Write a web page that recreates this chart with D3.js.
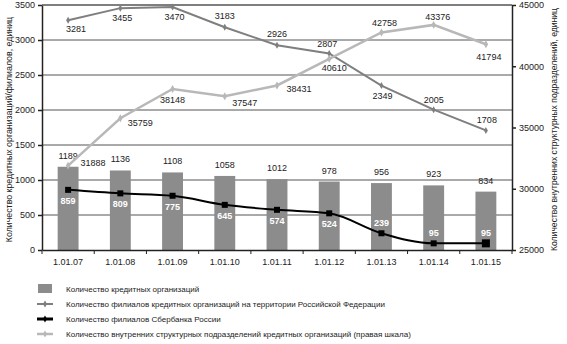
<!DOCTYPE html>
<html>
<head>
<meta charset="utf-8">
<script src="https://cdn.jsdelivr.net/npm/d3@7"></script>
<style>
  body { margin: 0; background: #fff; }
  svg { display: block; font-family: "Liberation Sans Narrow", "Liberation Sans", Arial, sans-serif; }
</style>
</head>
<body>
<div id="chart"></div>
<script>
// data
const dates = ["1.01.07", "1.01.08", "1.01.09", "1.01.10", "1.01.11", "1.01.12", "1.01.13", "1.01.14", "1.01.15"];
const creditOrgs = [1189, 1136, 1108, 1058, 1012, 978, 956, 923, 834];
const branches = [3281, 3455, 3470, 3183, 2926, 2807, 2349, 2005, 1708];
const sberBranches = [859, 809, 775, 645, 574, 524, 239, 95, 95];
const internalUnits = [31888, 35759, 38148, 37547, 38431, 40610, 42758, 43376, 41794];
const leftTicks = [0, 500, 1000, 1500, 2000, 2500, 3000, 3500];
const rightTicks = [25000, 30000, 35000, 40000, 45000];
const legendNames = [
  "Количество кредитных организаций",
  "Количество филиалов кредитных организаций на территории Российской  Федерации",
  "Количество филиалов Сбербанка России",
  "Количество внутренних структурных подразделений кредитных организаций (правая шкала)"
];

const width = 567, height = 344;
const plotLeft = 42, plotRight = 512, plotTop = 5, plotBottom = 250;

const barColor = "#8c8c8c", branchColor = "#7f7f7f", sberColor = "#000", unitColor = "#b8b8b8";

const svg = d3.select("#chart").append("svg")
    .attr("width", width)
    .attr("height", height)
    .attr("viewBox", [0, 0, width, height]);

const x = d3.scaleBand().domain(dates).range([plotLeft, plotRight]).paddingInner(0.6).paddingOuter(0.3);
const xc = d => x(d) + x.bandwidth() / 2;
const y = d3.scaleLinear().domain([0, 3500]).range([plotBottom, plotTop]);
const y2 = d3.scaleLinear().domain([25000, 45000]).range([plotBottom, plotTop]);

// gridlines
svg.append("g")
    .selectAll("line")
    .data(leftTicks.slice(1))
    .join("line")
    .attr("x1", plotLeft).attr("x2", plotRight)
    .attr("y1", d => y(d)).attr("y2", d => y(d))
    .attr("stroke", "#555").attr("stroke-width", 1);

// bars
svg.append("g")
    .selectAll("rect")
    .data(creditOrgs)
    .join("rect")
    .attr("x", (d, i) => x(dates[i]))
    .attr("width", x.bandwidth())
    .attr("y", d => y(d))
    .attr("height", d => plotBottom - y(d))
    .attr("fill", barColor);

svg.append("g")
    .attr("font-size", 9).attr("text-anchor", "middle").attr("fill", "#222")
    .selectAll("text")
    .data(creditOrgs)
    .join("text")
    .attr("x", (d, i) => xc(dates[i]))
    .attr("y", d => y(d) - 8)
    .text(d => d);

// axes
const axisLeft = svg.append("g")
    .attr("transform", `translate(${plotLeft},0)`)
    .call(d3.axisLeft(y).tickValues(leftTicks).tickSize(4).tickSizeOuter(0).tickFormat(d3.format("d")));
const axisRight = svg.append("g")
    .attr("transform", `translate(${plotRight},0)`)
    .call(d3.axisRight(y2).tickValues(rightTicks).tickSize(4).tickSizeOuter(0).tickFormat(d3.format("d")));
const axisBottom = svg.append("g")
    .attr("transform", `translate(0,${plotBottom})`)
    .call(d3.axisBottom(x).tickSize(0).tickPadding(9));

[axisLeft, axisRight, axisBottom].forEach(g => {
    g.selectAll("text").attr("font-size", 9).attr("fill", "#222").attr("font-family", null);
    g.selectAll("line, path").attr("stroke", "#222").attr("stroke-width", 1.5);
});

// boundary ticks on x axis
svg.append("g")
    .selectAll("line")
    .data(d3.range(dates.length + 1))
    .join("line")
    .attr("x1", i => plotLeft + i * x.step()).attr("x2", i => plotLeft + i * x.step())
    .attr("y1", plotBottom).attr("y2", plotBottom + 4)
    .attr("stroke", "#222").attr("stroke-width", 1);

// top frame
svg.append("line")
    .attr("x1", plotLeft).attr("x2", plotRight).attr("y1", plotTop).attr("y2", plotTop)
    .attr("stroke", "#555").attr("stroke-width", 1);

// branches line (left axis)
svg.append("path")
    .datum(branches)
    .attr("fill", "none").attr("stroke", branchColor).attr("stroke-width", 2)
    .attr("d", d3.line().x((d, i) => xc(dates[i])).y(d => y(d)));
svg.append("g").selectAll("path")
    .data(branches).join("path")
    .attr("transform", (d, i) => `translate(${xc(dates[i])},${y(d)})`)
    .attr("d", d3.symbol(d3.symbolDiamond, 14)).attr("fill", branchColor);

// internal units line (right axis)
svg.append("path")
    .datum(internalUnits)
    .attr("fill", "none").attr("stroke", unitColor).attr("stroke-width", 2.5)
    .attr("d", d3.line().x((d, i) => xc(dates[i])).y(d => y2(d)));
svg.append("g").selectAll("path")
    .data(internalUnits).join("path")
    .attr("transform", (d, i) => `translate(${xc(dates[i])},${y2(d)})`)
    .attr("d", d3.symbol(d3.symbolDiamond, 18)).attr("fill", unitColor);

// sberbank line
svg.append("path")
    .datum(sberBranches)
    .attr("fill", "none").attr("stroke", sberColor).attr("stroke-width", 2)
    .attr("d", d3.line().curve(d3.curveMonotoneX).x((d, i) => xc(dates[i])).y(d => y(d)));
svg.append("g").selectAll("rect")
    .data(sberBranches).join("rect")
    .attr("x", (d, i) => xc(dates[i]) - (i == 8 ? 4 : 3))
    .attr("y", (d, i) => y(d) - (i == 8 ? 4 : 3))
    .attr("width", (d, i) => i == 8 ? 8 : 6)
    .attr("height", (d, i) => i == 8 ? 8 : 6)
    .attr("fill", sberColor);

// white labels inside bars: below the point, last three above it
svg.append("g")
    .attr("font-size", 9).attr("text-anchor", "middle").attr("fill", "#fff").attr("font-weight", "bold")
    .selectAll("text")
    .data(sberBranches)
    .join("text")
    .attr("x", (d, i) => xc(dates[i]))
    .attr("y", (d, i) => y(d) + (i >= 6 ? -7 : 14))
    .text(d => d);

// value labels for lines: offsets [dx, dy] relative to point
const branchOffsets = [[8, 12], [2, 13], [2, 13], [0, -8], [0, -8], [-2, -7], [1, 13], [0, -7], [1, -7]];
svg.append("g")
    .attr("font-size", 9).attr("text-anchor", "middle").attr("fill", "#222")
    .selectAll("text")
    .data(branches)
    .join("text")
    .attr("x", (d, i) => xc(dates[i]) + branchOffsets[i][0])
    .attr("y", (d, i) => y(d) + branchOffsets[i][1])
    .text(d => d);

const unitOffsets = [[25, 0], [20, 8], [0, 14], [20, 10], [22, 7], [5, 12], [3, -6], [4, -5], [3, 16]];
svg.append("g")
    .attr("font-size", 9).attr("text-anchor", "middle").attr("fill", "#222")
    .selectAll("text")
    .data(internalUnits)
    .join("text")
    .attr("x", (d, i) => xc(dates[i]) + unitOffsets[i][0])
    .attr("y", (d, i) => y2(d) + unitOffsets[i][1])
    .text(d => d);

// axis titles
svg.append("text")
    .attr("transform", `translate(12,${(plotTop + plotBottom) / 2 + 2}) rotate(-90)`)
    .attr("text-anchor", "middle").attr("font-size", 8.8).attr("fill", "#222")
    .text("Количество кредитных организаций/филиалов, единиц");
svg.append("text")
    .attr("transform", `translate(557,${(plotTop + plotBottom) / 2 + 2}) rotate(-90)`)
    .attr("text-anchor", "middle").attr("font-size", 8.6).attr("fill", "#222")
    .text("Количество внутренних структурных подразделений, единиц");

// legend
const legend = svg.append("g").attr("font-size", 8).attr("fill", "#222");
const legendRows = legend.selectAll("g")
    .data(legendNames)
    .join("g")
    .attr("transform", (d, i) => `translate(0,${289 + i * 15})`);
legendRows.append("text").attr("x", 66).attr("y", 3).text(d => d);
legendRows.filter((d, i) => i == 0).append("rect")
    .attr("x", 38).attr("y", -5).attr("width", 14).attr("height", 9).attr("fill", barColor);
const lineStyles = [null, [branchColor, 2], [sberColor, 3], [unitColor, 2.5]];
legendRows.filter((d, i) => i > 0).append("line")
    .attr("x1", 37).attr("x2", 53).attr("y1", 0).attr("y2", 0)
    .attr("stroke", (d, i) => lineStyles[i + 1][0])
    .attr("stroke-width", (d, i) => lineStyles[i + 1][1]);
legendRows.filter((d, i) => i > 0).append("path")
    .attr("transform", "translate(45,0)")
    .attr("d", d3.symbol(d3.symbolDiamond, 14))
    .attr("fill", (d, i) => lineStyles[i + 1][0]);
</script>
</body>
</html>
